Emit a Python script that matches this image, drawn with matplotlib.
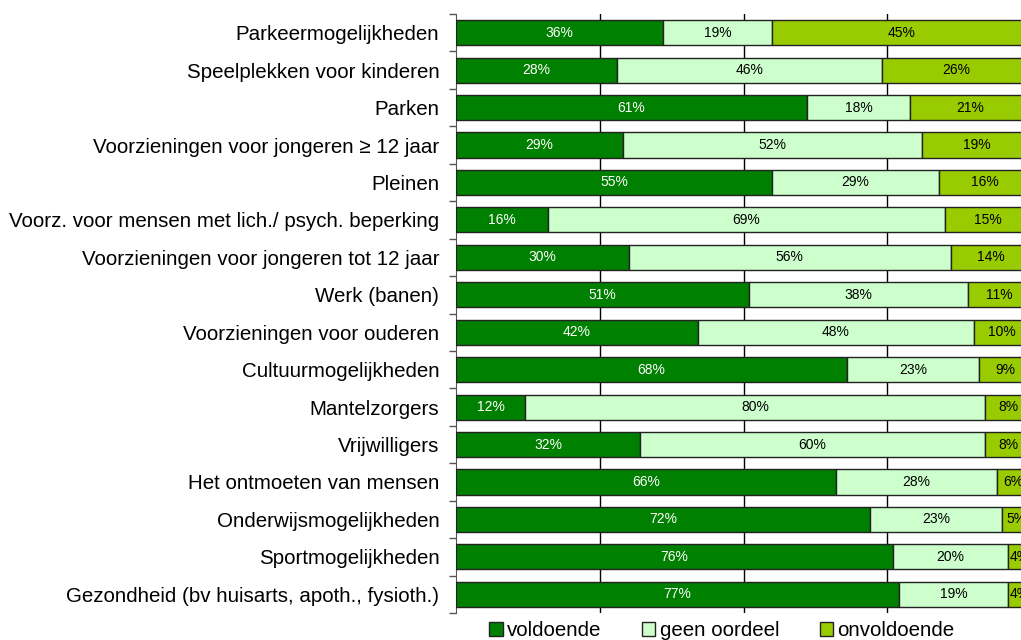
import matplotlib
matplotlib.use("Agg")
import matplotlib.pyplot as plt
from matplotlib.patches import Patch

plt.rcParams['font.family'] = ['Liberation Sans', 'DejaVu Sans']

# categories from top to bottom
categories = [
    "Parkeermogelijkheden",
    "Speelplekken voor kinderen",
    "Parken",
    "Voorzieningen voor jongeren ≥ 12 jaar",
    "Pleinen",
    "Voorz. voor mensen met lich./ psych. beperking",
    "Voorzieningen voor jongeren tot 12 jaar",
    "Werk (banen)",
    "Voorzieningen voor ouderen",
    "Cultuurmogelijkheden",
    "Mantelzorgers",
    "Vrijwilligers",
    "Het ontmoeten van mensen",
    "Onderwijsmogelijkheden",
    "Sportmogelijkheden",
    "Gezondheid (bv huisarts, apoth., fysioth.)",
]
voldoende = [36, 28, 61, 29, 55, 16, 30, 51, 42, 68, 12, 32, 66, 72, 76, 77]
geen_oordeel = [19, 46, 18, 52, 29, 69, 56, 38, 48, 23, 80, 60, 28, 23, 20, 19]
onvoldoende = [45, 26, 21, 19, 16, 15, 14, 11, 10, 9, 8, 8, 6, 5, 4, 4]

series = [
    ("voldoende", voldoende, "#008000", "white"),
    ("geen oordeel", geen_oordeel, "#CCFFCC", "black"),
    ("onvoldoende", onvoldoende, "#99CC00", "black"),
]

W, H = 1021, 640
fig = plt.figure(figsize=(W / 100, H / 100), dpi=100)
# plot area runs past the right edge of the picture, like the original
ax = fig.add_axes([456 / W, 27 / H, 575 / W, 599 / H])

ypos = list(range(len(categories)))
left = [0] * len(categories)
for name, vals, col, tcol in series:
    bars = ax.barh(ypos, vals, left=left, height=0.67, color=col,
                   edgecolor="#222222", linewidth=1, zorder=3)
    for b, v in zip(bars, vals):
        ax.text(b.get_x() + b.get_width() / 2, b.get_y() + b.get_height() / 2,
                f"{v}%", ha="center", va="center", color=tcol, fontsize=10,
                zorder=4)
    left = [l + v for l, v in zip(left, vals)]

ax.set_xlim(0, 100)
ax.set_ylim(len(categories) - 0.5, -0.5)
ax.set_xticks([25, 50, 75])
ax.tick_params(axis="x", length=0, labelbottom=False)
ax.grid(axis="x", color="black", linewidth=1, zorder=0)

ax.set_yticks(ypos)
ax.set_yticklabels(categories, fontsize=14.8)
ax.set_yticks([i - 0.5 for i in range(len(categories) + 1)], minor=True)
ax.tick_params(axis="y", which="major", length=0, pad=12)
ax.tick_params(axis="y", which="minor", length=5, width=1, color="#555555")
for s in ["top", "right", "bottom"]:
    ax.spines[s].set_visible(False)
ax.spines["left"].set_color("#555555")

handles = [Patch(facecolor=c, edgecolor="#222222", label=n) for n, _, c, _ in series]
fig.legend(handles=handles, loc="center", bbox_to_anchor=(722 / W, 1 - 630.5 / H),
           ncol=3, frameon=False, fontsize=14.8, handlelength=0.64,
           handleheight=0.64, handletextpad=0.2, columnspacing=2.0,
           borderaxespad=0, borderpad=0)

fig.savefig("out.png", dpi=100)
